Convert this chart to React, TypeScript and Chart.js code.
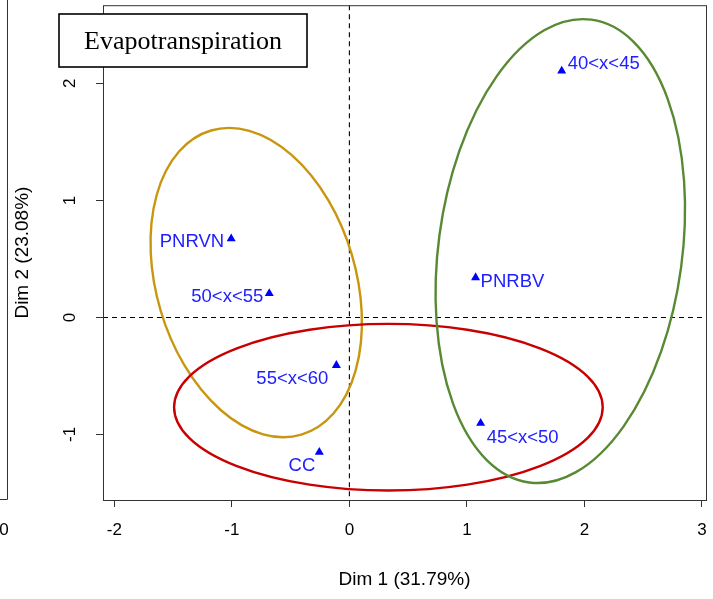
import React, { useEffect, useRef } from "react";
import { Chart, registerables } from "chart.js";

Chart.register(...registerables);

// ---- data ----
const pointNames = ["40<x<45", "PNRVN", "PNRBV", "50<x<55", "55<x<60", "45<x<50", "CC"];
const dim1 = [1.807, -1.006, 1.074, -0.682, -0.111, 1.117, -0.256];
const dim2 = [2.106, 0.673, 0.341, 0.205, -0.409, -0.904, -1.151];

const xTicks = [-2, -1, 0, 1, 2, 3];
const yTicks = [-1, 0, 1, 2];

// confidence ellipses (data units; angle in degrees, counter-clockwise)
const ellipseCx = [-0.793, 0.332, 1.795];
const ellipseCy = [0.298, -0.767, 0.567];
const ellipseA = [1.355, 1.824, 1.995];
const ellipseB = [0.848, 0.712, 1.0375];
const ellipseAngle = [-73.5, 0, 82.4];
const ellipseColors = ["#C9960F", "#C80000", "#588A34"];

const titleText = "Evapotranspiration";
const xTitle = "Dim 1 (31.79%)";
const yTitle = "Dim 2 (23.08%)";

// label placement relative to the marker (pixels)
const labelPlacement: Record<string, { dx: number; dy: number; align: CanvasTextAlign }> = {
  "40<x<45": { dx: 6, dy: -7, align: "left" },
  PNRVN: { dx: -7, dy: 3, align: "right" },
  PNRBV: { dx: 5, dy: 4, align: "left" },
  "50<x<55": { dx: -6, dy: 3, align: "right" },
  "55<x<60": { dx: -8, dy: 14, align: "right" },
  "45<x<50": { dx: 6, dy: 15, align: "left" },
  CC: { dx: -4, dy: 14, align: "right" },
};

const SANS = "'Liberation Sans', Arial, sans-serif";

const decorPlugin = {
  id: "decor",
  beforeDatasetsDraw(chart: any) {
    const { ctx, chartArea, scales } = chart;
    const xs = scales.x;
    const ys = scales.y;
    ctx.save();
    ctx.beginPath();
    ctx.rect(chartArea.left, chartArea.top, chartArea.right - chartArea.left, chartArea.bottom - chartArea.top);
    ctx.clip();
    // dashed zero lines
    const x0 = xs.getPixelForValue(0);
    const y0 = ys.getPixelForValue(0);
    ctx.setLineDash([5, 4]);
    ctx.strokeStyle = "#000";
    ctx.lineWidth = 1.1;
    ctx.beginPath();
    ctx.moveTo(x0, chartArea.top);
    ctx.lineTo(x0, chartArea.bottom);
    ctx.moveTo(chartArea.left, y0);
    ctx.lineTo(chartArea.right, y0);
    ctx.stroke();
    ctx.setLineDash([]);
    // ellipses
    const sx = xs.getPixelForValue(1) - xs.getPixelForValue(0);
    const sy = ys.getPixelForValue(0) - ys.getPixelForValue(1);
    for (let i = 0; i < ellipseCx.length; i++) {
      ctx.save();
      ctx.translate(xs.getPixelForValue(ellipseCx[i]), ys.getPixelForValue(ellipseCy[i]));
      ctx.scale(sx, -sy);
      ctx.rotate((ellipseAngle[i] * Math.PI) / 180);
      ctx.beginPath();
      ctx.ellipse(0, 0, ellipseA[i], ellipseB[i], 0, 0, Math.PI * 2);
      ctx.restore();
      ctx.strokeStyle = ellipseColors[i];
      ctx.lineWidth = 2.4;
      ctx.stroke();
    }
    ctx.restore();
  },
  afterDatasetsDraw(chart: any) {
    const { ctx, scales } = chart;
    ctx.save();
    ctx.font = `18.5px ${SANS}`;
    ctx.fillStyle = "#2020ff";
    ctx.textBaseline = "middle";
    pointNames.forEach((name, i) => {
      const p = labelPlacement[name];
      const px = scales.x.getPixelForValue(dim1[i]);
      const py = scales.y.getPixelForValue(dim2[i]);
      ctx.textAlign = p.align;
      ctx.fillText(name, px + p.dx, py + p.dy);
    });
    ctx.restore();
  },
  afterDraw(chart: any) {
    const { ctx, chartArea } = chart;
    ctx.save();
    // plot box
    ctx.strokeStyle = "#333";
    ctx.lineWidth = 1;
    ctx.strokeRect(chartArea.left + 0.5, chartArea.top + 0.5, chartArea.right - chartArea.left, chartArea.bottom - chartArea.top);
    // remnant of neighbouring panel
    ctx.beginPath();
    ctx.moveTo(7.5, 0);
    ctx.lineTo(7.5, 499.5);
    ctx.lineTo(0, 499.5);
    ctx.stroke();
    ctx.fillStyle = "#000";
    ctx.font = `17px ${SANS}`;
    ctx.textAlign = "center";
    ctx.textBaseline = "middle";
    ctx.fillText("0", 4, 530);
    // title box
    ctx.fillStyle = "#fff";
    ctx.fillRect(59, 14, 248, 53);
    ctx.strokeStyle = "#000";
    ctx.lineWidth = 1.6;
    ctx.strokeRect(59, 14, 248, 53);
    ctx.fillStyle = "#000";
    ctx.font = `26px 'Liberation Serif', 'Times New Roman', serif`;
    ctx.textAlign = "center";
    ctx.textBaseline = "middle";
    ctx.fillText(titleText, 183, 42);
    ctx.restore();
  },
};

export default function App() {
  const canvasRef = useRef<HTMLCanvasElement | null>(null);

  useEffect(() => {
    if (!canvasRef.current) return;
    Chart.defaults.font.family = SANS;
    const chart = new Chart(canvasRef.current, {
      type: "scatter",
      data: {
        datasets: [
          {
            label: "points",
            data: dim1.map((v, i) => ({ x: v, y: dim2[i] })),
            pointStyle: "triangle",
            radius: 5.2,
            hoverRadius: 5.2,
            backgroundColor: "#0000ff",
            borderColor: "#0000ff",
            borderWidth: 0,
          },
        ],
      },
      options: {
        responsive: false,
        animation: false,
        events: [],
        layout: { padding: { top: 4, right: 7, bottom: 0, left: 0 } },
        plugins: {
          legend: { display: false },
          tooltip: { enabled: false },
          title: { display: false },
        },
        scales: {
          x: {
            type: "linear",
            position: "bottom",
            min: -2.097,
            max: 3.035,
            afterFit: (s: any) => {
              s.height = 99;
              s.paddingLeft = 0;
              s.paddingRight = 0;
              s.paddingTop = 0;
              s.paddingBottom = 0;
            },
            afterBuildTicks: (s: any) => {
              s.ticks = xTicks.map((v) => ({ value: v }));
            },
            ticks: {
              includeBounds: false,
              color: "#000",
              font: { size: 17 },
              padding: 13,
              maxRotation: 0,
              minRotation: 0,
            },
            grid: { drawOnChartArea: false, drawTicks: true, tickLength: 7, color: "#333" },
            border: { display: false },
            title: {
              display: true,
              text: xTitle,
              color: "#000",
              font: { size: 19 },
              padding: { top: 0, bottom: 8 },
            },
          },
          y: {
            type: "linear",
            position: "left",
            min: -1.56,
            max: 2.668,
            afterFit: (s: any) => {
              s.width = 103;
              s.paddingLeft = 0;
              s.paddingRight = 0;
              s.paddingTop = 0;
              s.paddingBottom = 0;
            },
            afterBuildTicks: (s: any) => {
              s.ticks = yTicks.map((v) => ({ value: v }));
            },
            ticks: {
              includeBounds: false,
              color: "#000",
              font: { size: 17 },
              padding: 18,
              minRotation: 90,
              maxRotation: 90,
              crossAlign: "center",
            },
            grid: { drawOnChartArea: false, drawTicks: true, tickLength: 7, color: "#333" },
            border: { display: false },
            title: {
              display: true,
              text: yTitle,
              color: "#000",
              font: { size: 19 },
              padding: { top: 11, bottom: 0 },
            },
          },
        },
      },
      plugins: [decorPlugin],
    } as any);
    return () => chart.destroy();
  }, []);

  return (
    <div style={{ position: "absolute", left: 0, top: 0, width: 713, height: 599, background: "#fff" }}>
      <canvas ref={canvasRef} width={713} height={599} style={{ display: "block" }} />
    </div>
  );
}
